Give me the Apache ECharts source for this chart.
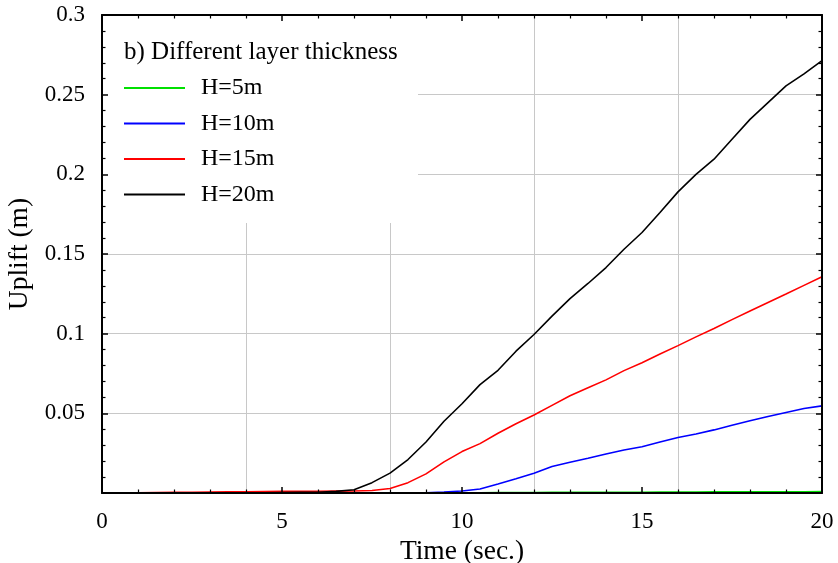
<!DOCTYPE html>
<html>
<head>
<meta charset="utf-8">
<script src="https://cdn.jsdelivr.net/npm/echarts@6/dist/echarts.min.js"></script>
<style>
  html, body { margin: 0; padding: 0; background: #fff; }
  #chart { width: 838px; height: 563px; }
</style>
</head>
<body>
<div id="chart"></div>
<script>
// Uplift vs. time for different soil layer thicknesses H
const time = [0, 0.5, 1, 1.5, 2, 2.5, 3, 3.5, 4, 4.5, 5, 5.5, 6, 6.5, 7, 7.5, 8, 8.5, 9, 9.5,
  10, 10.5, 11, 11.5, 12, 12.5, 13, 13.5, 14, 14.5, 15, 15.5, 16, 16.5, 17, 17.5, 18, 18.5, 19, 19.5, 20];

const upliftH5 = [0, 0, 0, 0, 0, 0, 0, 0, 0, 0, 0, 0, 0, 0, 0, 0, 0, 0, 0, 0.0001,
  0.0002, 0.0002, 0.0003, 0.0003, 0.0003, 0.0004, 0.0004, 0.0004, 0.0005, 0.0005, 0.0005,
  0.0006, 0.0006, 0.0006, 0.0007, 0.0007, 0.0007, 0.0008, 0.0008, 0.0008, 0.0009];

const upliftH10 = [0, 0, 0, 0, 0, 0, 0, 0, 0, 0, 0, 0, 0, 0, 0, 0, 0, 0, 0.0002, 0.0006,
  0.0013, 0.0025, 0.0057, 0.009, 0.0124, 0.0166, 0.0193, 0.0218, 0.0245, 0.027, 0.029,
  0.032, 0.0348, 0.037, 0.0396, 0.0425, 0.0453, 0.048, 0.0505, 0.053, 0.0547];

const upliftH15 = [0, 0.0001, 0.0002, 0.0003, 0.0004, 0.0005, 0.0006, 0.0007, 0.0008, 0.0009,
  0.001, 0.001, 0.0011, 0.0012, 0.0013, 0.0016, 0.0028, 0.0065, 0.012, 0.0195,
  0.026, 0.031, 0.0375, 0.0435, 0.049, 0.055, 0.061, 0.066, 0.071, 0.0768, 0.0818,
  0.0872, 0.0925, 0.098, 0.1033, 0.1088, 0.1142, 0.1196, 0.1249, 0.1303, 0.1357];

const upliftH20 = [0, 0, 0, 0, 0, 0, 0.0001, 0.0001, 0.0002, 0.0002, 0.0003, 0.0004,
  0.0005, 0.001, 0.002, 0.0065, 0.0125, 0.021, 0.032, 0.045,
  0.056, 0.068, 0.077, 0.089, 0.0995, 0.111, 0.122, 0.1315, 0.1415, 0.153, 0.1635,
  0.176, 0.189, 0.2, 0.2095, 0.222, 0.2345, 0.245, 0.2555, 0.263, 0.2713];

const seriesNames = ['H=5m', 'H=10m', 'H=15m', 'H=20m'];
const seriesColors = ['#00e000', '#0000ff', '#ff0000', '#000000'];
const seriesValues = [upliftH5, upliftH10, upliftH15, upliftH20];

const FONT = "'Liberation Serif', 'Times New Roman', serif";

const frameLine = { show: true, onZero: false, lineStyle: { color: '#000', width: 2 } };
const frameTick = { show: true, inside: true, length: 6, lineStyle: { color: '#000', width: 1.5 } };
const frameMinor = { show: true, splitNumber: 5, length: 3.5, lineStyle: { color: '#000', width: 1.2 } };
const gridLine = { show: true, lineStyle: { color: '#c8c8c8', width: 1 } };

const chart = echarts.init(document.getElementById('chart'), null, { renderer: 'canvas' });

chart.setOption({
  animation: false,
  backgroundColor: '#fff',
  grid: { left: 102, right: 16, top: 15, bottom: 70, outerBoundsMode: 'none', containLabel: false },
  title: {
    text: 'b) Different layer thickness',
    left: 124,
    top: 37,
    padding: 0,
    textStyle: { fontFamily: FONT, fontSize: 25, fontWeight: 'normal', color: '#000', lineHeight: 30 }
  },
  legend: {
    left: 124,
    top: 75,
    orient: 'vertical',
    padding: 0,
    itemGap: 9.5,
    itemWidth: 61,
    itemHeight: 2,
    icon: 'rect',
    data: seriesNames,
    textStyle: { fontFamily: FONT, fontSize: 24, color: '#000', lineHeight: 26, padding: [0, 0, 0, 11] }
  },
  // white panel behind the legend, above the grid lines but below the frame ticks
  graphic: [{
    type: 'rect',
    z: 1,
    shape: { x: 103, y: 16, width: 315, height: 207 },
    style: { fill: '#fff' },
    silent: true
  }],
  xAxis: [
    {
      type: 'value', min: 0, max: 20, interval: 5, position: 'bottom', z: 5,
      name: 'Time (sec.)', nameLocation: 'middle', nameGap: 44,
      nameTextStyle: { fontFamily: FONT, fontSize: 27.5, color: '#000' },
      axisLine: frameLine, axisTick: frameTick, minorTick: frameMinor,
      splitLine: { show: false },
      axisLabel: { fontFamily: FONT, fontSize: 23, color: '#000', margin: 17 }
    },
    {
      type: 'value', min: 0, max: 20, interval: 5, position: 'top', z: 5,
      axisLine: frameLine, axisTick: frameTick, minorTick: frameMinor,
      splitLine: { show: false }, axisLabel: { show: false }
    },
    {
      type: 'value', min: 0, max: 20, interval: 4, position: 'bottom', z: 0,
      axisLine: { show: false }, axisTick: { show: false }, axisLabel: { show: false },
      splitLine: gridLine
    }
  ],
  yAxis: [
    {
      type: 'value', min: 0, max: 0.3, interval: 0.05, position: 'left', z: 5,
      name: 'Uplift (m)', nameLocation: 'middle', nameGap: 59, nameRotate: 90,
      nameTextStyle: { fontFamily: FONT, fontSize: 27.5, color: '#000' },
      axisLine: frameLine, axisTick: frameTick, minorTick: frameMinor,
      splitLine: { show: false },
      axisLabel: {
        fontFamily: FONT, fontSize: 23, color: '#000', margin: 17,
        formatter: v => (v === 0 ? '' : String(+v.toFixed(2)))
      }
    },
    {
      type: 'value', min: 0, max: 0.3, interval: 0.05, position: 'right', z: 5,
      axisLine: frameLine, axisTick: frameTick, minorTick: frameMinor,
      splitLine: { show: false }, axisLabel: { show: false }
    },
    {
      type: 'value', min: 0, max: 0.3, interval: 0.05, position: 'left', z: 0,
      axisLine: { show: false }, axisTick: { show: false }, axisLabel: { show: false },
      splitLine: gridLine
    }
  ],
  series: seriesNames.map((name, i) => ({
    name,
    type: 'line',
    xAxisIndex: 0,
    yAxisIndex: 0,
    z: 2,
    showSymbol: false,
    symbol: 'none',
    color: seriesColors[i],
    lineStyle: { color: seriesColors[i], width: 1.6 },
    data: time.map((t, k) => [t, seriesValues[i][k]])
  }))
});
</script>
</body>
</html>
